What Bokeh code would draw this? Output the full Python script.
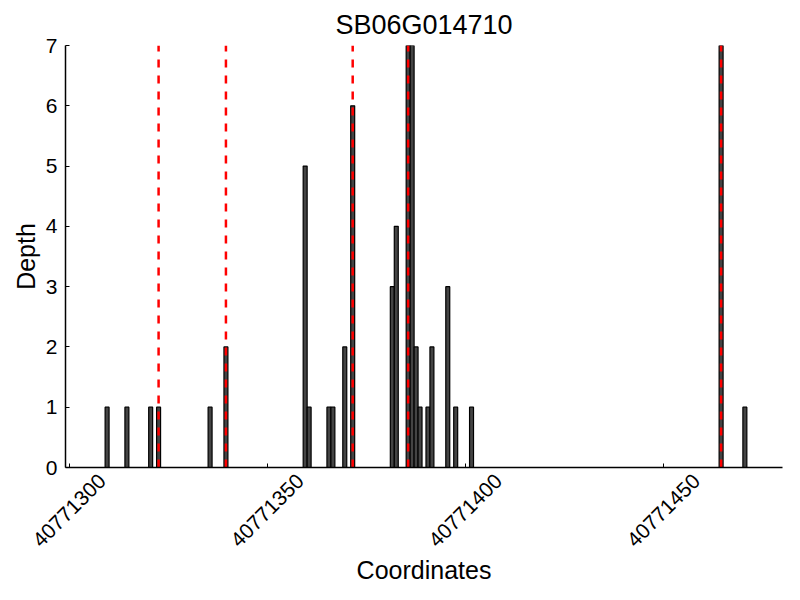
from bokeh.plotting import figure
from bokeh.models import FixedTicker, BasicTickFormatter, Range1d, LinearAxis
from bokeh.embed import file_html
from bokeh.resources import INLINE
import math

# Data: bar start coordinates and read depths
positions = [40771309, 40771314, 40771320, 40771322, 40771335, 40771339,
             40771359, 40771360, 40771365, 40771366, 40771369, 40771371,
             40771381, 40771382, 40771385, 40771386, 40771387, 40771388,
             40771390, 40771391, 40771395, 40771397, 40771401, 40771464,
             40771470]
depths = [1, 1, 1, 1, 1, 2,
          5, 1, 1, 1, 2, 6,
          3, 4, 7, 7, 2, 1,
          1, 2, 3, 1, 1, 7,
          1]
marker_positions = [40771322, 40771339, 40771371, 40771385, 40771464]
x_ticks = [40771300, 40771350, 40771400, 40771450]
y_ticks = [0, 1, 2, 3, 4, 5, 6, 7]
title = "SB06G014710"

FONT = "Liberation Sans"
X0, X1 = 40771299, 40771480
LABEL_SHIFT = 8.3   # shift so rotated tick labels are centred on their ticks

p = figure(width=792, height=592, output_backend="svg", toolbar_location=None,
           x_range=Range1d(X0, X1), y_range=Range1d(0, 7),
           min_border_left=65, min_border_right=10, min_border_top=45,
           min_border_bottom=125)
p.extra_x_ranges = {"lab": Range1d(X0 - LABEL_SHIFT, X1 - LABEL_SHIFT)}

centers = [x + 0.5 for x in positions]
p.vbar(x=centers, top=depths, bottom=0, width=1.0, fill_color="#444444",
       line_color="black", line_width=1.2)

mcent = [x + 0.5 for x in marker_positions]
p.segment(x0=mcent, x1=mcent, y0=[0] * len(mcent), y1=[7] * len(mcent),
          line_color="red", line_width=2.5, line_dash="8 8")

p.title.text = title
p.title.align = "center"
p.title.text_font = FONT
p.title.text_font_size = "27px"
p.title.text_font_style = "normal"
p.title.text_color = "black"
p.title.standoff = 11

p.xgrid.visible = False
p.ygrid.visible = False
p.outline_line_color = None

xa = p.xaxis[0]
xa.ticker = FixedTicker(ticks=x_ticks)
xa.formatter = BasicTickFormatter(use_scientific=False)
xa.major_label_overrides = {t: "" for t in x_ticks}
xa.major_label_text_font_size = "1px"
xa.major_label_standoff = 0
ya = p.yaxis[0]
ya.ticker = FixedTicker(ticks=y_ticks)
ya.axis_label = "Depth"

for ax in (xa, ya):
    ax.major_tick_in = 4
    ax.major_tick_out = 0
    ax.minor_tick_line_color = None
    ax.axis_line_color = "black"
    ax.axis_line_width = 1.5
    ax.major_tick_line_color = "black"
    ax.major_label_text_font = FONT
    ax.major_label_text_color = "black"
    ax.axis_label_text_font = FONT
    ax.axis_label_text_font_size = "25px"
    ax.axis_label_text_font_style = "normal"
    ax.axis_label_text_color = "black"

ya.major_label_text_font_size = "21px"
ya.major_label_standoff = 8
ya.axis_label_standoff = 3

# Tick-label axis: same ticks, labels rotated 45 degrees and centred on ticks
xl = LinearAxis(x_range_name="lab", ticker=FixedTicker(ticks=x_ticks),
                formatter=BasicTickFormatter(use_scientific=False),
                major_label_orientation=math.pi / 4,
                axis_line_color=None, major_tick_line_color=None,
                minor_tick_line_color=None, major_tick_in=0, major_tick_out=0,
                major_label_standoff=10,
                major_label_text_font=FONT, major_label_text_font_size="21px",
                major_label_text_color="black",
                axis_label="Coordinates", axis_label_standoff=0,
                axis_label_text_font=FONT, axis_label_text_font_size="25px",
                axis_label_text_font_style="normal",
                axis_label_text_color="black")
p.add_layout(xl, "below")

open("out.html", "w").write(file_html(p, INLINE))
